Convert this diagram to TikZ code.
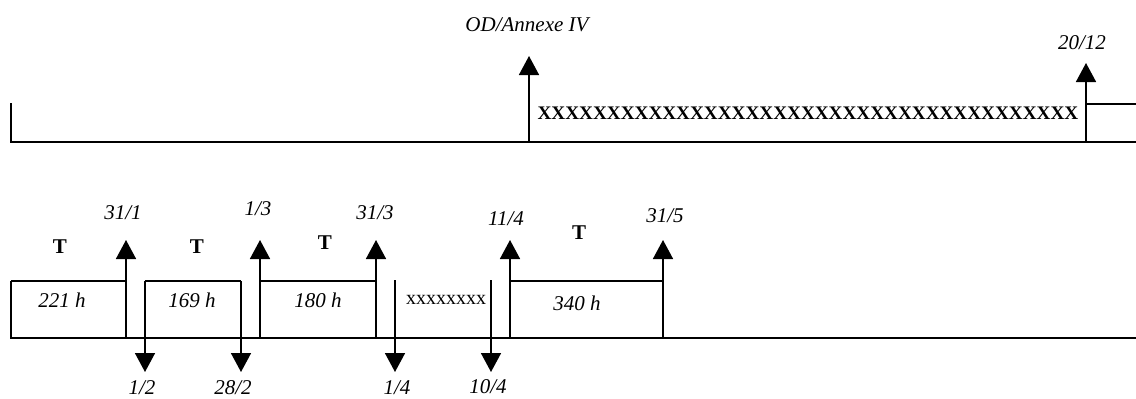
\documentclass[tikz,border=0pt]{standalone}
\usepackage{fontspec}
\setmainfont{Liberation Serif}
\usetikzlibrary{arrows.meta,positioning}

\begin{document}
\begin{tikzpicture}[
  x=1pt, y=-1pt,
  line width=1.6pt,
  datum/.style={inner sep=0pt, font=\fontsize{21}{21}\selectfont\itshape},
  tee/.style={inner sep=0pt, font=\fontsize{21}{21}\selectfont\bfseries},
  arrow/.style={-{Triangle[width=20pt, length=19pt]}},
  axis/.style={line width=2pt},
]
  \useasboundingbox (0,0) rectangle (1136,399);

  % upper time line
  \coordinate (utick) at (11,103);
  \coordinate (u0)    at (11,142);
  \coordinate (u1)    at (1136,142);
  \coordinate (od)    at (529,142);
  \coordinate (odtip) at (529,56);
  \coordinate (dec)   at (1086,142);
  \coordinate (dectip) at (1086,63);
  \coordinate (decbox) at (1086,104);
  \coordinate (uend)  at (1136,104);

  \draw[axis] (utick) -- (u0) -- (u1);
  \draw[arrow] (od) -- (odtip);
  \draw[arrow] (dec) -- (dectip);
  \draw (decbox) -- (uend);

  \node[datum] (odlbl)  at (527,25) {OD/Annexe IV};
  \node[datum] (declbl) at (1082,43) {20/12};
  \node[inner sep=0pt, font=\fontsize{19.2}{20}\selectfont\bfseries] (blocked)
    at (808,113.5) {XXXXXXXXXXXXXXXXXXXXXXXXXXXXXXXXXXXXXXX};

  % lower time line
  \coordinate (l0) at (11,338);
  \coordinate (l1) at (1136,338);
  \coordinate (k1) at (11,281);
  \draw[axis] (k1) -- (l0) -- (l1);

  % upward arrows (end of a period / restart)
  \coordinate (a1) at (126,338);  \coordinate (a1t) at (126,240);
  \coordinate (a2) at (260,338);  \coordinate (a2t) at (260,240);
  \coordinate (a3) at (376,338);  \coordinate (a3t) at (376,240);
  \coordinate (a4) at (510,338);  \coordinate (a4t) at (510,240);
  \coordinate (a5) at (663,338);  \coordinate (a5t) at (663,240);
  \draw[arrow] (a1) -- (a1t);
  \draw[arrow] (a2) -- (a2t);
  \draw[arrow] (a3) -- (a3t);
  \draw[arrow] (a4) -- (a4t);
  \draw[arrow] (a5) -- (a5t);

  % downward arrows
  \coordinate (d1) at (145,281);  \coordinate (d1t) at (145,372);
  \coordinate (d2) at (241,281);  \coordinate (d2t) at (241,372);
  \coordinate (d3) at (395,280);  \coordinate (d3t) at (395,372);
  \coordinate (d4) at (491,280);  \coordinate (d4t) at (491,372);
  \draw[arrow] (d1) -- (d1t);
  \draw[arrow] (d2) -- (d2t);
  \draw[arrow] (d3) -- (d3t);
  \draw[arrow] (d4) -- (d4t);

  % box tops
  \draw (k1) -- (k1 -| a1);
  \draw (d1) -- (d2);
  \draw (a2 |- k1) -- (a3 |- k1);
  \draw (a4 |- k1) -- (a5 |- k1);

  % dates
  \node[datum] (jan31) at (123,213) {31/1};
  \node[datum] (feb1)  at (142,388) {1/2};
  \node[datum] (feb28) at (233,388) {28/2};
  \node[datum] (mar1)  at (258,209) {1/3};
  \node[datum] (mar31) at (375,213) {31/3};
  \node[datum] (apr1)  at (397,388) {1/4};
  \node[datum] (apr10) at (488,387) {10/4};
  \node[datum] (apr11) at (506,219) {11/4};
  \node[datum] (may31) at (665,216) {31/5};

  % periods
  \node[tee] (t1) at (60,247) {T};
  \node[tee] (t2) at (197,247) {T};
  \node[tee] (t3) at (325,243) {T};
  \node[tee] (t4) at (579,233) {T};
  \node[datum] (h1) at (62,300)  {221 h};
  \node[datum] (h2) at (192,300) {169 h};
  \node[datum] (h3) at (318,300) {180 h};
  \node[datum] (h4) at (577,303) {340 h};
  \node[inner sep=0pt, font=\fontsize{20}{20}\selectfont] (gap)
    at (446,300) {xxxxxxxx};
\end{tikzpicture}
\end{document}
